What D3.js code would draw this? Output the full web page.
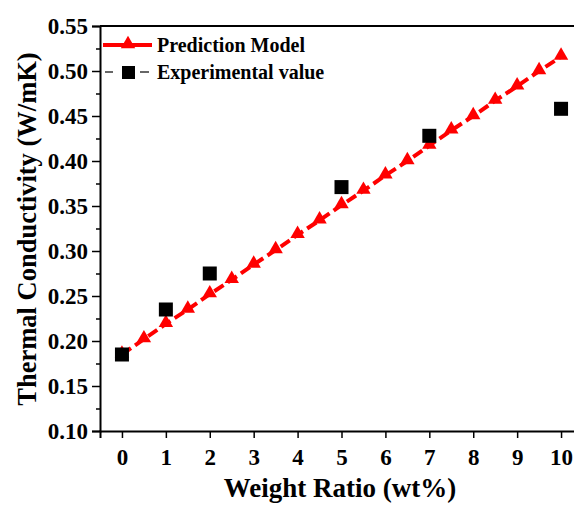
<!DOCTYPE html>
<html>
<head>
<meta charset="utf-8">
<script src="https://cdn.jsdelivr.net/npm/d3@7"></script>
<style>
  body { margin: 0; background: #fff; }
  text { font-family: "Liberation Serif", "Times New Roman", serif; font-weight: bold; }
</style>
</head>
<body>
<script>
// data
var modelX = [0, 0.5, 1, 1.5, 2, 2.5, 3, 3.5, 4, 4.5, 5, 5.5, 6, 6.5, 7, 7.5, 8, 8.5, 9, 9.5, 10];
var modelY = [0.185, 0.202, 0.219, 0.235, 0.252, 0.268, 0.285, 0.301, 0.318, 0.334, 0.351,
              0.367, 0.384, 0.400, 0.417, 0.434, 0.450, 0.467, 0.483, 0.500, 0.516];
var expX = [0, 1, 2, 5, 7, 10];
var expY = [0.185, 0.235, 0.275, 0.371, 0.428, 0.458];
var xTicks = [0, 1, 2, 3, 4, 5, 6, 7, 8, 9, 10];
var yTicks = [0.10, 0.15, 0.20, 0.25, 0.30, 0.35, 0.40, 0.45, 0.50, 0.55];

var margin = {top: 26, right: -9, bottom: 74, left: 100},
    width = 574 - margin.left - margin.right,
    height = 505 - margin.top - margin.bottom;

var x = d3.scaleLinear().domain([-0.5, 10.5]).range([0, width]);
var y = d3.scaleLinear().domain([0.10, 0.55]).range([height, 0]);

var svg = d3.select("body").append("svg")
    .attr("width", 574)
    .attr("height", 505)
  .append("g")
    .attr("transform", "translate(" + margin.left + "," + margin.top + ")");

// minor y ticks
svg.append("g")
    .call(d3.axisLeft(y).tickValues(d3.range(0.125, 0.55, 0.05)).tickSize(4).tickFormat(""))
    .call(function(g) { g.select(".domain").remove(); })
    .selectAll("line").attr("stroke-width", 1.5);

// y axis
var yAxis = svg.append("g")
    .call(d3.axisLeft(y).tickValues(yTicks).tickSize(8).tickPadding(4).tickFormat(d3.format(".2f")));
yAxis.selectAll("text").attr("font-size", "23px").attr("font-family", "Liberation Serif").attr("font-weight", "bold");

// x axis
var xAxis = svg.append("g")
    .attr("transform", "translate(0," + height + ")")
    .call(d3.axisBottom(x).tickValues(xTicks).tickSize(7).tickPadding(11));
xAxis.selectAll("text").attr("font-size", "23px").attr("font-family", "Liberation Serif").attr("font-weight", "bold");

svg.selectAll(".domain").attr("stroke-width", 2);
svg.selectAll(".tick line").attr("stroke-width", 1.5);

// top frame
svg.append("line")
    .attr("x1", 0).attr("x2", width)
    .attr("y1", 0).attr("y2", 0)
    .attr("stroke", "#000").attr("stroke-width", 2);

// prediction model line
var line = d3.line()
    .x(function(d, i) { return x(modelX[i]); })
    .y(function(d) { return y(d); });

svg.append("path")
    .datum(modelY)
    .attr("fill", "none")
    .attr("stroke", "#ff0000")
    .attr("stroke-width", 4)
    .attr("stroke-dasharray", "11,5")
    .attr("d", line);

var tri = d3.symbol().type(d3.symbolTriangle).size(90);
svg.selectAll(".tri")
    .data(modelY)
    .enter().append("path")
    .attr("class", "tri")
    .attr("fill", "#ff0000")
    .attr("transform", function(d, i) { return "translate(" + x(modelX[i]) + "," + (y(d) - 1) + ")"; })
    .attr("d", tri);

// experimental squares
svg.selectAll(".sq")
    .data(expY)
    .enter().append("rect")
    .attr("class", "sq")
    .attr("x", function(d, i) { return x(expX[i]) - 7; })
    .attr("y", function(d) { return y(d) - 7; })
    .attr("width", 14)
    .attr("height", 14)
    .attr("fill", "#000");

// legend
var leg = svg.append("g");
leg.append("line")
    .attr("x1", 3).attr("x2", 52).attr("y1", 19).attr("y2", 19)
    .attr("stroke", "#ff0000").attr("stroke-width", 4);
leg.append("path")
    .attr("transform", "translate(28,18)")
    .attr("fill", "#ff0000")
    .attr("d", tri);
leg.append("text")
    .attr("x", 57).attr("y", 26)
    .attr("font-size", "20px")
    .text("Prediction Model");

leg.append("line")
    .attr("x1", 5).attr("x2", 13).attr("y1", 46).attr("y2", 46)
    .attr("stroke", "#000").attr("stroke-width", 1.2);
leg.append("line")
    .attr("x1", 40).attr("x2", 49).attr("y1", 46).attr("y2", 46)
    .attr("stroke", "#000").attr("stroke-width", 1.2);
leg.append("rect")
    .attr("x", 22).attr("y", 40).attr("width", 13).attr("height", 13)
    .attr("fill", "#000");
leg.append("text")
    .attr("x", 57).attr("y", 53)
    .attr("font-size", "20px")
    .text("Experimental value");

// axis titles
svg.append("text")
    .attr("transform", "rotate(-90)")
    .attr("x", -(229 - margin.top))
    .attr("y", -64)
    .style("text-anchor", "middle")
    .attr("font-size", "26.5px")
    .text("Thermal Conductivity (W/mK)");

svg.append("text")
    .attr("x", 240)
    .attr("y", height + 66)
    .style("text-anchor", "middle")
    .attr("font-size", "27px")
    .text("Weight Ratio (wt%)");
</script>
</body>
</html>
